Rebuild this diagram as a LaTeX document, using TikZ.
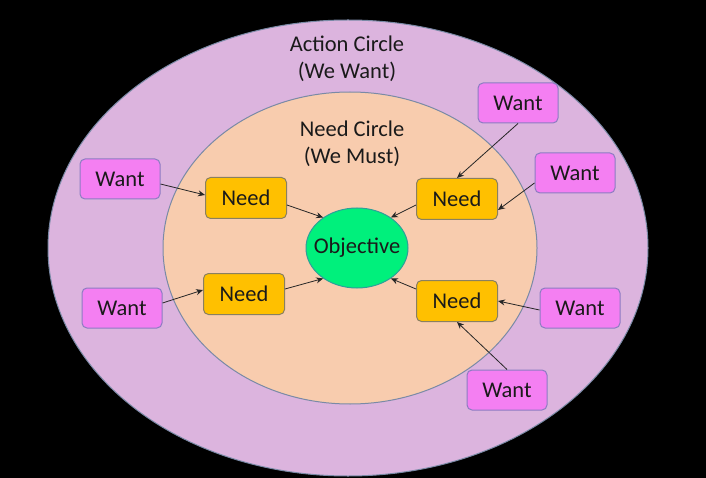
\documentclass[tikz,border=0pt]{standalone}
\usepackage{fontspec}
\setmainfont{Carlito}
\usetikzlibrary{arrows.meta,shapes.geometric}
\definecolor{outerfill}{HTML}{DCB4DE}
\definecolor{ringline}{HTML}{7A8AA6}
\definecolor{innerfill}{HTML}{F8CCAE}
\definecolor{objfill}{HTML}{00F07C}
\definecolor{objline}{HTML}{2E9E9A}
\definecolor{needfill}{HTML}{FFC000}
\definecolor{needline}{HTML}{8A8060}
\definecolor{wantfill}{HTML}{F47FF2}
\definecolor{wantline}{HTML}{8C7CC2}
\definecolor{txt}{HTML}{1A1A1A}
\tikzset{
  lbl/.style={text=txt,font=\fontsize{22.5}{27}\selectfont,align=center},
  needbox/.style={draw=needline,line width=1pt,fill=needfill,rounded corners=5pt,minimum width=81pt,minimum height=41pt,inner sep=0pt,text=txt,font=\fontsize{22.5}{27}\selectfont},
  wantbox/.style={draw=wantline,line width=1pt,fill=wantfill,rounded corners=5pt,minimum width=80pt,minimum height=40pt,inner sep=0pt,text=txt,font=\fontsize{22.5}{27}\selectfont},
  objnode/.style={ellipse,draw=objline,line width=1pt,fill=objfill,minimum width=102pt,minimum height=80pt,inner xsep=-8pt,inner ysep=0pt,text=txt,font=\fontsize{22.5}{27}\selectfont},
  conn/.style={draw=black!85,line width=0.8pt,-{Stealth[length=7pt,width=6pt]}}
}
\begin{document}
\begin{tikzpicture}[x=1pt,y=-1pt]
\fill[black] (0,0) rectangle (706,478);
\useasboundingbox (0,0) rectangle (706,478);
\draw[ringline,line width=1pt,fill=outerfill] (348,248) ellipse [x radius=300, y radius=228];
\draw[ringline,line width=1pt,fill=innerfill] (350,248) ellipse [x radius=187, y radius=156];
\node[lbl] (actionlbl) at (347,59) {Action Circle\\(We Want)};
\node[lbl] (needlbl) at (352,144) {Need Circle\\(We Must)};
\node[objnode] (obj) at (357,248) {Objective};
\node[needbox] (ntl) at (246,198) {Need};
\node[needbox] (nbl) at (244,294) {Need};
\node[needbox] (ntr) at (457,199) {Need};
\node[needbox] (nbr) at (457,301) {Need};
\node[wantbox] (wlt) at (120,179) {Want};
\node[wantbox] (wlb) at (122,308) {Want};
\node[wantbox] (wtr) at (518,103) {Want};
\node[wantbox] (wr2) at (575,173) {Want};
\node[wantbox] (wr3) at (580,308) {Want};
\node[wantbox] (wb) at (507,390) {Want};
\draw[conn] ([yshift=-5pt]wlt.east) -- ([yshift=3pt]ntl.west);
\draw[conn] ([yshift=5pt]wlb.east) -- ([yshift=4pt]nbl.west);
\draw[conn] (wtr.south) -- (ntr.north);
\draw[conn] ([yshift=-10pt]wr2.west) -- ([yshift=-11pt]ntr.east);
\draw[conn] ([yshift=-2pt]wr3.west) -- (nbr.east);
\draw[conn] (wb.north) -- (nbr.south);
\draw[conn] ([yshift=-7pt]ntl.east) -- (obj.138);
\draw[conn] ([yshift=5pt]nbl.east) -- (obj.222);
\draw[conn] ([yshift=-6pt]ntr.west) -- (obj.42);
\draw[conn] ([yshift=12pt]nbr.west) -- (obj.-42);
\end{tikzpicture}
\end{document}
